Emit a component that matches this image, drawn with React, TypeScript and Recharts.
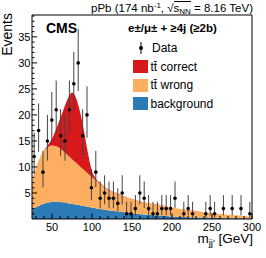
import { ComposedChart, Area, Scatter, ErrorBar, XAxis, YAxis, ReferenceLine } from 'recharts';

// stacked templates, read at these mass points
const massGrid = [25, 30, 35, 40, 45, 50, 55, 60, 65, 70, 75, 80, 85, 90, 95, 100, 105, 110, 120, 130, 140, 150, 165, 180, 200, 220, 240, 260, 280, 300];
const background = [1.8, 2.25, 2.65, 2.95, 3.15, 3.28, 3.3, 3.27, 3.2, 3.05, 2.9, 2.8, 2.65, 2.5, 2.35, 2.2, 2.05, 1.9, 1.7, 1.5, 1.28, 1.08, 0.88, 0.7, 0.5, 0.36, 0.27, 0.19, 0.14, 0.1];
const ttWrong = [5.4, 7.55, 9.15, 10.15, 10.65, 10.82, 10.7, 10.33, 9.7, 9.15, 8.6, 8.0, 7.45, 6.9, 6.35, 5.8, 5.35, 4.9, 3.9, 3.45, 3.02, 2.72, 2.32, 2.15, 1.7, 1.34, 1.03, 0.76, 0.56, 0.35];
const ttCorrect = [0, 0, 0, 0.05, 0.4, 1.3, 3.2, 5.6, 8.4, 11.0, 12.8, 12.5, 10.5, 7.5, 3.9, 1.2, 0.3, 0.15, 0.1, 0.08, 0.06, 0.05, 0.04, 0.03, 0.02, 0.02, 0.01, 0.01, 0.01, 0];

// data histogram (bin centres, 5.5 GeV bins)
const binCenters = [27.75, 33.25, 38.75, 44.25, 49.75, 55.25, 60.75, 66.25, 71.75, 77.25, 82.75, 88.25, 93.75, 99.25, 104.75, 110.25, 115.75, 121.25, 126.75, 132.25, 137.75, 143.25, 148.75, 154.25, 159.75, 165.25, 170.75, 176.25, 181.75, 187.25, 192.75, 198.25, 203.75, 209.25, 214.75, 220.25, 225.75, 231.25, 236.75, 242.25, 247.75, 253.25, 258.75, 264.25, 269.75, 275.25, 280.75, 286.25, 291.75, 297.25];
const counts = [12, 17, 9, 15, 19, 21, 16, 15, 21, 26, 30, 16, 20, 6, 9, 4, 5, 4, 4, 3, 5, 1, 1, 2, 5, 4, 2, 1, 1, 2, 2, 2, 4, 0, 1, 2, 1, 0, 0, 1, 2, 1, 0, 2, 0, 2, 0, 2, 0, 1];
const errLo = [3.4, 4.1, 2.9, 3.8, 4.3, 4.6, 3.9, 3.8, 4.6, 5.1, 5.4, 3.9, 4.4, 2.4, 2.9, 1.9, 2.2, 1.9, 1.9, 1.6, 2.2, 0.8, 0.8, 1.3, 2.2, 1.9, 1.3, 0.8, 0.8, 1.3, 1.3, 1.3, 1.9, 0, 0.8, 1.3, 0.8, 0, 0, 0.8, 1.3, 0.8, 0, 1.3, 0, 1.3, 0, 1.3, 0, 0.8];
const errHi = [4.6, 5.2, 4.1, 5.0, 5.4, 5.6, 5.1, 5.0, 5.6, 6.1, 6.5, 5.1, 5.5, 3.6, 4.1, 3.2, 3.4, 3.2, 3.2, 2.9, 3.4, 2.3, 2.3, 2.6, 3.4, 3.2, 2.6, 2.3, 2.3, 2.6, 2.6, 2.6, 3.2, 0, 2.3, 2.6, 2.3, 0, 0, 2.3, 2.6, 2.3, 0, 2.6, 0, 2.6, 0, 2.6, 0, 2.3];

const xTicks = [30, 40, 50, 60, 70, 80, 90, 100, 110, 120, 130, 140, 150, 160, 170, 180, 190, 200, 210, 220, 230, 240, 250, 260, 270, 280, 290, 300];
const yTicks = [1, 2, 3, 4, 5, 6, 7, 8, 9, 10, 11, 12, 13, 14, 15, 16, 17, 18, 19, 20, 21, 22, 23, 24, 25, 26, 27, 28, 29, 30, 31, 32, 33, 34, 35, 36, 37, 38, 39];

const RED = '#d7191c';
const ORANGE = '#fdae61';
const BLUE = '#2c7bb6';
const FONT = '"Liberation Sans", Arial, Helvetica, sans-serif';

const areaRows = massGrid.map((x, i) => ({ x, bkg: background[i], wrong: ttWrong[i], correct: ttCorrect[i] }));
const dataRows = binCenters
  .map((x, i) => ({ x, y: counts[i], err: [errLo[i], errHi[i]] }))
  .filter((d) => d.y > 0);

const XTick = (props: any) => {
  const { x, y, payload } = props;
  const v = payload.value;
  const major = v % 50 === 0;
  return (
    <g>
      <line x1={x} x2={x} y1={y} y2={y - (major ? 5.5 : 3)} stroke='#000' />
      {major && (
        <text x={x} y={y + 12} textAnchor='middle' fontSize={11} fill='#000'>
          {v}
        </text>
      )}
    </g>
  );
};

const YTick = (props: any) => {
  const { x, y, payload } = props;
  const v = payload.value;
  const major = v % 5 === 0;
  return (
    <g>
      <line x1={x} x2={x + (major ? 5 : 2.5)} y1={y} y2={y} stroke='#000' />
      {major && (
        <text x={x - 1.5} y={y + 4} textAnchor='end' fontSize={11} fill='#000'>
          {v}
        </text>
      )}
    </g>
  );
};

const Box = ({ top, color }: { top: number; color: string }) => (
  <div style={{ position: 'absolute', left: 133, top, width: 15, height: 13, backgroundColor: color }} />
);

const Label = ({ top, children }: { top: number; children: React.ReactNode }) => (
  <div style={{ position: 'absolute', left: 150.5, top, fontSize: 12, lineHeight: '12px', whiteSpace: 'nowrap' }}>{children}</div>
);

export default function App() {
  return (
    <div style={{ position: 'absolute', left: 0, top: 0, width: 266, height: 258, fontFamily: FONT, color: '#000', background: '#fff' }}>
      <ComposedChart width={266} height={258} data={areaRows} margin={{ top: 15, right: 14, bottom: 38, left: 31 }}>
        <Area type='monotone' dataKey='bkg' stackId='s' stroke='none' fill={BLUE} fillOpacity={1} isAnimationActive={false} activeDot={false} />
        <Area type='monotone' dataKey='wrong' stackId='s' stroke='none' fill={ORANGE} fillOpacity={1} isAnimationActive={false} activeDot={false} />
        <Area type='monotone' dataKey='correct' stackId='s' stroke='none' fill={RED} fillOpacity={1} isAnimationActive={false} activeDot={false} />
        <Scatter
          data={dataRows}
          dataKey='y'
          fill='#000'
          isAnimationActive={false}
          shape={(p: any) => <circle cx={p.cx} cy={p.cy} r={1.8} fill='#000' />}
        >
          <ErrorBar dataKey='err' direction='y' width={0} stroke='#444' strokeWidth={1} />
        </Scatter>
        <ReferenceLine y={39.2} stroke='#000' />
        <ReferenceLine x={300} stroke='#000' />
        <XAxis
          type='number'
          dataKey='x'
          domain={[25, 300]}
          allowDataOverflow
          ticks={xTicks}
          interval={0}
          tickSize={0}
          tickMargin={0}
          tickLine={false}
          tick={XTick}
          axisLine={{ stroke: '#000' }}
          height={1}
        />
        <YAxis
          type='number'
          domain={[0, 39.2]}
          allowDataOverflow
          ticks={yTicks}
          interval={0}
          tickSize={0}
          tickMargin={0}
          tickLine={false}
          tick={YTick}
          axisLine={{ stroke: '#000' }}
          width={1}
        />
      </ComposedChart>

      {/* title */}
      <div style={{ position: 'absolute', left: 40, width: 213, top: 2.8, fontSize: 11.5, lineHeight: '11.5px', textAlign: 'right', whiteSpace: 'nowrap' }}>
        pPb (174 nb<span style={{ fontSize: 8, position: 'relative', top: -4 }}>-1</span>, √
        <span style={{ borderTop: '1px solid #000' }}>
          s<span style={{ fontSize: 8, position: 'relative', top: 2 }}>NN</span>
        </span>{' '}
        = 8.16 TeV)
      </div>

      {/* y label */}
      <div
        style={{
          position: 'absolute',
          left: 0,
          top: 73,
          width: 60,
          fontSize: 14,
          lineHeight: '14px',
          textAlign: 'right',
          transformOrigin: 'left top',
          transform: 'rotate(-90deg)',
          whiteSpace: 'nowrap',
        }}
      >
        Events
      </div>

      {/* x label */}
      <div style={{ position: 'absolute', left: 150, width: 103, top: 231.9, fontSize: 13.5, lineHeight: '13.5px', textAlign: 'right', whiteSpace: 'nowrap' }}>
        m<span style={{ fontSize: 9.5, position: 'relative', top: 3 }}>jj′</span> [GeV]
      </div>

      <div style={{ position: 'absolute', left: 46, top: 20.9, fontSize: 14, lineHeight: '14px', fontWeight: 'bold' }}>CMS</div>

      <div style={{ position: 'absolute', left: 128, top: 23.3, fontSize: 11.5, lineHeight: '11.5px', fontWeight: 'bold', whiteSpace: 'nowrap' }}>
        e±/μ± + ≥4j (≥2b)
      </div>

      {/* legend */}
      <svg style={{ position: 'absolute', left: 135, top: 40 }} width={12} height={16}>
        <line x1={6} x2={6} y1={2} y2={14} stroke='#000' />
        <circle cx={6} cy={8} r={2} fill='#000' />
      </svg>
      <div style={{ position: 'absolute', left: 152, top: 42.1, fontSize: 12, lineHeight: '12px' }}>Data</div>
      <Box top={60} color={RED} />
      <Label top={60.8}>tt̄ correct</Label>
      <Box top={78.5} color={ORANGE} />
      <Label top={79.1}>tt̄ wrong</Label>
      <Box top={97} color={BLUE} />
      <Label top={97.6}>background</Label>
    </div>
  );
}
